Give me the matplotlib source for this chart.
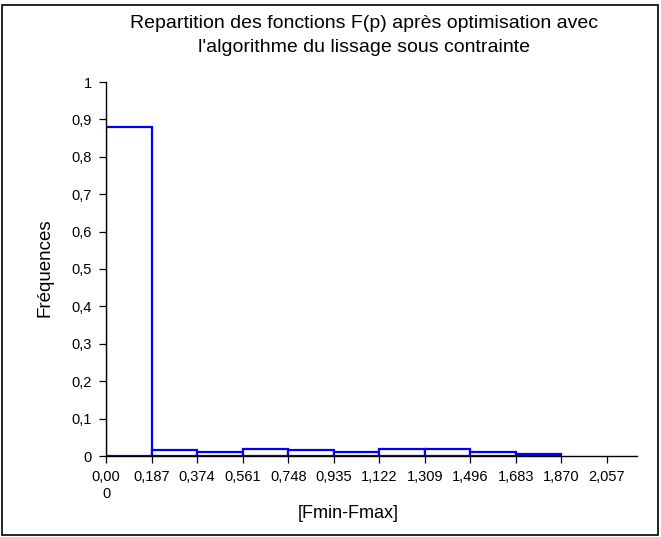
import matplotlib.pyplot as plt
from matplotlib.patches import Rectangle

plt.rcParams['font.family'] = ['Liberation Sans', 'DejaVu Sans']

# bin edges and frequencies
edges = [0.0, 0.187, 0.374, 0.561, 0.748, 0.935, 1.122, 1.309, 1.496, 1.683, 1.870]
freqs = [0.88, 0.015, 0.01, 0.02, 0.015, 0.01, 0.02, 0.02, 0.01, 0.005]
xtick_vals = [0.0, 0.187, 0.374, 0.561, 0.748, 0.935, 1.122, 1.309, 1.496, 1.683, 1.870, 2.057]
xtick_labels = ["0,00\n0", "0,187", "0,374", "0,561", "0,748", "0,935", "1,122",
                "1,309", "1,496", "1,683", "1,870", "2,057"]
ytick_vals = [0, 0.1, 0.2, 0.3, 0.4, 0.5, 0.6, 0.7, 0.8, 0.9, 1]

W, H = 661, 537
fig = plt.figure(figsize=(W/100, H/100), dpi=100)
ax = fig.add_axes([106/W, 1 - 456/H, 531/W, 374/H])

widths = [edges[i+1] - edges[i] for i in range(len(freqs))]
ax.bar(edges[:-1], freqs, width=widths, align='edge', facecolor='white',
       edgecolor='#0000ff', linewidth=1.6)

ax.set_xlim(0, 2.18)
ax.set_ylim(0, 1)
ax.set_xticks(xtick_vals)
ax.set_xticklabels(xtick_labels, fontsize=10.5, linespacing=1.25)
ax.set_yticks(ytick_vals)
ax.set_yticklabels([("%g" % v).replace('.', ',') for v in ytick_vals], fontsize=10.5)
ax.tick_params(direction='out', length=5, width=0.9, pad=5)
ax.spines['top'].set_visible(False)
ax.spines['right'].set_visible(False)
for s in ('left', 'bottom'):
    ax.spines[s].set_linewidth(1.0)
    ax.spines[s].set_zorder(5)

fig.text(45/W, 1 - 268/H, "Fréquences", rotation=90, ha='center', va='center', fontsize=13.5)
fig.text(348/W, 1 - 514/H, "[Fmin-Fmax]", ha='center', va='center', fontsize=13)
fig.text(364/W, 1 - 23/H, "Repartition des fonctions F(p) après optimisation avec",
         ha='center', va='center', fontsize=14)
fig.text(364/W, 1 - 47/H, "l'algorithme du lissage sous contrainte",
         ha='center', va='center', fontsize=14)

fig.patches.append(Rectangle((2/W, 2/H), 656/W, 530/H, transform=fig.transFigure,
                             fill=False, edgecolor='black', linewidth=1.2))

fig.savefig("out.png", dpi=100)
